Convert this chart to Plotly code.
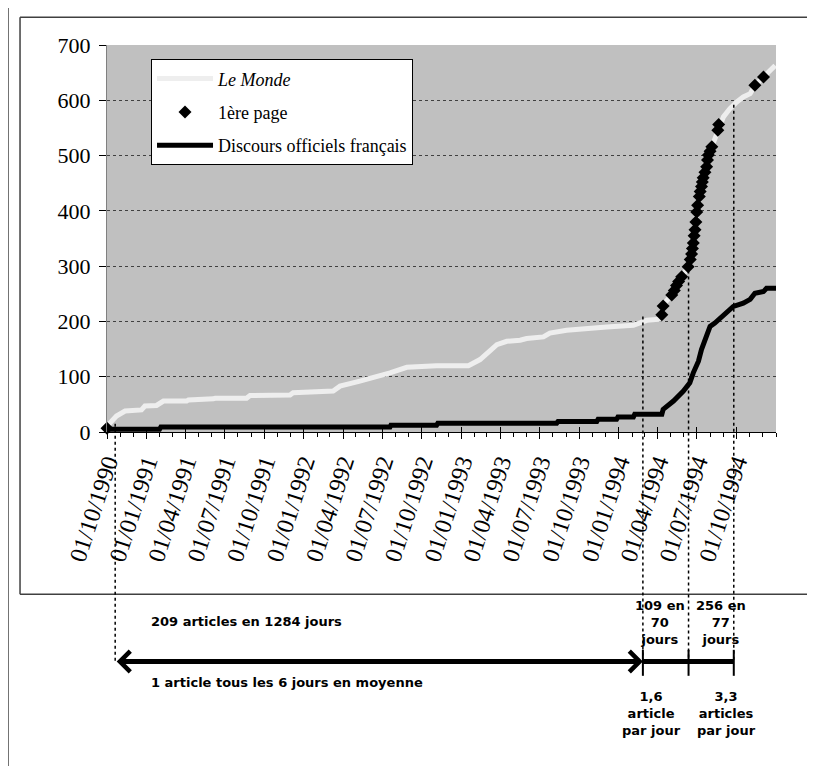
import plotly.graph_objects as go

# ---------------- data ----------------
lemonde_dates = ["1990-10-01","1990-10-04","1990-10-23","1990-11-12","1990-12-20","1990-12-28","1991-01-24","1991-02-09",
                 "1991-04-04","1991-04-08","1991-06-05","1991-06-09","1991-08-21","1991-08-29","1991-11-30","1991-12-07",
                 "1992-03-09","1992-03-25","1992-05-10","1992-06-10","1992-07-19","1992-08-27","1992-11-04","1993-01-17",
                 "1993-02-13","1993-03-24","1993-04-16","1993-05-17","1993-06-01","1993-07-10","1993-07-25","1993-09-02",
                 "1993-10-19","1993-12-04","1994-02-04","1994-02-19","1994-03-07","1994-04-07","1994-04-11","1994-04-14",
                 "1994-05-04","1994-05-15","1994-05-27","1994-06-11","1994-06-19","1994-06-23","1994-06-27","1994-07-01",
                 "1994-07-07","1994-07-12","1994-07-16","1994-07-24","1994-07-28","1994-08-05","1994-08-12","1994-08-20",
                 "1994-09-01","1994-09-16","1994-10-02","1994-10-17","1994-11-02","1994-11-13","1994-12-03","1994-12-18",
                 "1994-12-30"]
lemonde_values = [3,13,29,38,40,47,48,56,56,58,60,61,61,66,67,71,74,83,92,98,107,117,120,120,131,158,164,166,169,172,
                  179,184,186,190,193,198,202,204,212,230,248,265,281,299,322,342,366,398,426,444,460,480,501,516,528,546,
                  570,585,597,606,612,627,642,654,663]

discours_dates = ["1990-10-01","1991-01-31","1991-02-03","1992-07-19","1992-07-21","1992-11-04","1992-11-07","1993-08-10",
                  "1993-08-13","1993-11-11","1993-11-14","1993-12-27","1993-12-30","1994-02-04","1994-02-07","1994-04-11",
                  "1994-04-14","1994-05-08","1994-05-31","1994-06-15","1994-06-23","1994-07-05","1994-07-12","1994-07-24",
                  "1994-08-01","1994-08-12","1994-09-01","1994-09-24","1994-10-17","1994-11-02","1994-11-13","1994-12-03",
                  "1994-12-10","1995-01-01"]
discours_values = [5,5,9,9,12,12,16,16,19,19,23,23,27,27,32,32,41,56,74,89,107,128,149,173,191,197,212,227,233,240,
                   251,254,260,260]

une_dates = ["1990-10-01","1994-04-11","1994-04-14","1994-05-04","1994-05-10","1994-05-15","1994-05-20","1994-05-27",
             "1994-06-11","1994-06-16","1994-06-19","1994-06-21","1994-06-23","1994-06-25","1994-06-27","1994-06-29",
             "1994-07-01","1994-07-03","1994-07-07","1994-07-09","1994-07-12","1994-07-14","1994-07-16","1994-07-20",
             "1994-07-24","1994-07-26","1994-07-28","1994-08-01","1994-08-05","1994-08-19","1994-08-21","1994-11-13",
             "1994-12-03"]
une_values = [7,212,228,248,256,265,272,281,299,312,322,332,342,355,366,380,398,410,426,435,444,452,460,470,480,492,
              501,508,516,546,556,627,642]

tick_dates = ["1990-10-01","1991-01-01","1991-04-01","1991-07-01","1991-10-01","1992-01-01","1992-04-01","1992-07-01",
              "1992-10-01","1993-01-01","1993-04-01","1993-07-01","1993-10-01","1994-01-01","1994-04-01","1994-07-01",
              "1994-10-01"]
tick_labels = ["01/10/1990","01/01/1991","01/04/1991","01/07/1991","01/10/1991","01/01/1992","01/04/1992","01/07/1992",
               "01/10/1992","01/01/1993","01/04/1993","01/07/1993","01/10/1993","01/01/1994","01/04/1994","01/07/1994",
               "01/10/1994"]

# period markers (dotted lines): dates and the value where each starts
period_dates = ["1990-10-20","1994-02-26","1994-06-12","1994-09-25"]
period_tops = [15, 209, 292, 592]

periode_texts = ["209 articles en 1284 jours", "1 article tous les 6 jours en moyenne",
                 "109 en<br>70<br>jours", "256 en<br>77<br>jours",
                 "1,6<br>article<br>par jour", "3,3<br>articles<br>par jour"]

SERIF = "Liberation Serif, Times New Roman, serif"
SANS_B = "Verdana, DejaVu Sans, sans-serif"

fig = go.Figure()
fig.add_trace(go.Scatter(x=lemonde_dates, y=lemonde_values, mode="lines", name="<i>Le Monde</i>",
                         line=dict(color="#eeeeee", width=5), legendgroup="a"))
fig.add_trace(go.Scatter(x=une_dates, y=une_values, mode="markers", name="1ère page",
                         marker=dict(symbol="diamond", size=10, color="black"), cliponaxis=False, legendgroup="b"))
fig.add_trace(go.Scatter(x=discours_dates, y=discours_values, mode="lines", name="Discours officiels français",
                         line=dict(color="black", width=5), legendgroup="c"))
# empty trace to register overlay axis (crossing major ticks)
fig.add_trace(go.Scatter(x=[], y=[], xaxis="x2", showlegend=False, hoverinfo="skip"))

xr = ["1990-10-01", "1995-01-01"]
fig.update_layout(
    width=799, height=758,
    margin=dict(l=99, r=31, t=37, b=334),
    paper_bgcolor="white", plot_bgcolor="#c0c0c0",
    showlegend=True,
    legend=dict(x=0.0658, y=0.963, xanchor="left", yanchor="top", bgcolor="white",
                bordercolor="black", borderwidth=1, font=dict(family=SERIF, size=18, color="black"),
                itemwidth=56, tracegroupgap=7, traceorder="grouped"),
    xaxis=dict(type="date", range=xr, tickmode="array", tickvals=tick_dates, ticktext=tick_labels,
               tickangle=-72, tickfont=dict(family=SERIF, size=24, color="black"),
               ticks="outside", ticklen=6, tickcolor="black", tickwidth=1,
               minor=dict(dtick="M1", tick0="1990-10-01", ticks="outside", ticklen=4, tickcolor="black", showgrid=False),
               showline=True, linecolor="black", linewidth=1, showgrid=False, zeroline=False),
    xaxis2=dict(type="date", range=xr, overlaying="x", anchor="y", tickmode="array",
                tickvals=tick_dates + ["1995-01-01"], ticks="inside", ticklen=5, tickcolor="black",
                showticklabels=False, showgrid=False, showline=False, zeroline=False),
    yaxis=dict(range=[0, 700], dtick=100, tickfont=dict(family=SERIF, size=22, color="black"),
               ticks="outside", ticklen=7, tickcolor="black", showline=True, linecolor="#808080", linewidth=1,
               ticklabelstandoff=4,
               showgrid=True, gridcolor="#404040", griddash="dot", gridwidth=1, zeroline=False),
)

def yp(py):
    return (432 - py) / 387.3

frame = dict(color="#404040", width=1.5)
shapes = []
# outer frame (left + top)
shapes.append(dict(type="line", xref="paper", yref="paper", x0=-0.148, x1=-0.148, y0=-1.0, y1=1.110, line=frame))
shapes.append(dict(type="line", xref="paper", yref="paper", x0=-0.148, x1=1.2, y0=1.110, y1=1.110, line=frame))
# chart box (left, top, bottom)
shapes.append(dict(type="line", xref="paper", yref="paper", x0=-0.130, x1=-0.130, y0=yp(594.5), y1=1.0715, line=frame))
shapes.append(dict(type="line", xref="paper", yref="paper", x0=-0.130, x1=1.2, y0=1.0715, y1=1.0715, line=frame))
shapes.append(dict(type="line", xref="paper", yref="paper", x0=-0.130, x1=1.2, y0=yp(594.5), y1=yp(594.5), line=frame))
# dotted period lines
for d, top in zip(period_dates, period_tops):
    shapes.append(dict(type="line", xref="x", yref="paper", x0=d, x1=d, y0=top / 700, y1=yp(662),
                       line=dict(color="black", width=1.5, dash="dot")))
# segment after the double arrow and its bars
shapes.append(dict(type="line", xref="x", yref="paper", x0=period_dates[1], x1=period_dates[3],
                   y0=yp(661.7), y1=yp(661.7), line=dict(color="black", width=5)))
for d in period_dates[1:]:
    shapes.append(dict(type="line", xref="x", yref="paper", x0=d, x1=d, y0=yp(650), y1=yp(676),
                       line=dict(color="black", width=2)))
fig.update_layout(shapes=shapes)

ann = []
ann.append(dict(x=period_dates[1], y=yp(661.7), xref="x", yref="paper", ax=period_dates[0], axref="x", ay=0,
                ayref="pixel", text="", showarrow=True, arrowside="end+start", arrowhead=4, startarrowhead=4,
                arrowwidth=5, arrowsize=0.8, startarrowsize=0.8, arrowcolor="black"))
font_b = dict(family=SANS_B, size=13, color="black")
ann.append(dict(x=(149 - 107) / 669, y=yp(622), xref="paper", yref="paper", text="<b>%s</b>" % periode_texts[0],
                showarrow=False, xanchor="left", yanchor="middle", font=font_b))
ann.append(dict(x=(149 - 107) / 669, y=yp(683), xref="paper", yref="paper", text="<b>%s</b>" % periode_texts[1],
                showarrow=False, xanchor="left", yanchor="middle", font=font_b))
for txt, cx, cy in [(periode_texts[2], 660, 623), (periode_texts[3], 721, 623),
                    (periode_texts[4], 651, 714), (periode_texts[5], 726, 714)]:
    ann.append(dict(x=(cx - 107) / 669, y=yp(cy), xref="paper", yref="paper", text="<b>%s</b>" % txt,
                    showarrow=False, xanchor="center", yanchor="middle", align="center", font=font_b))
fig.update_layout(annotations=ann)

fig.write_html("out.html")
